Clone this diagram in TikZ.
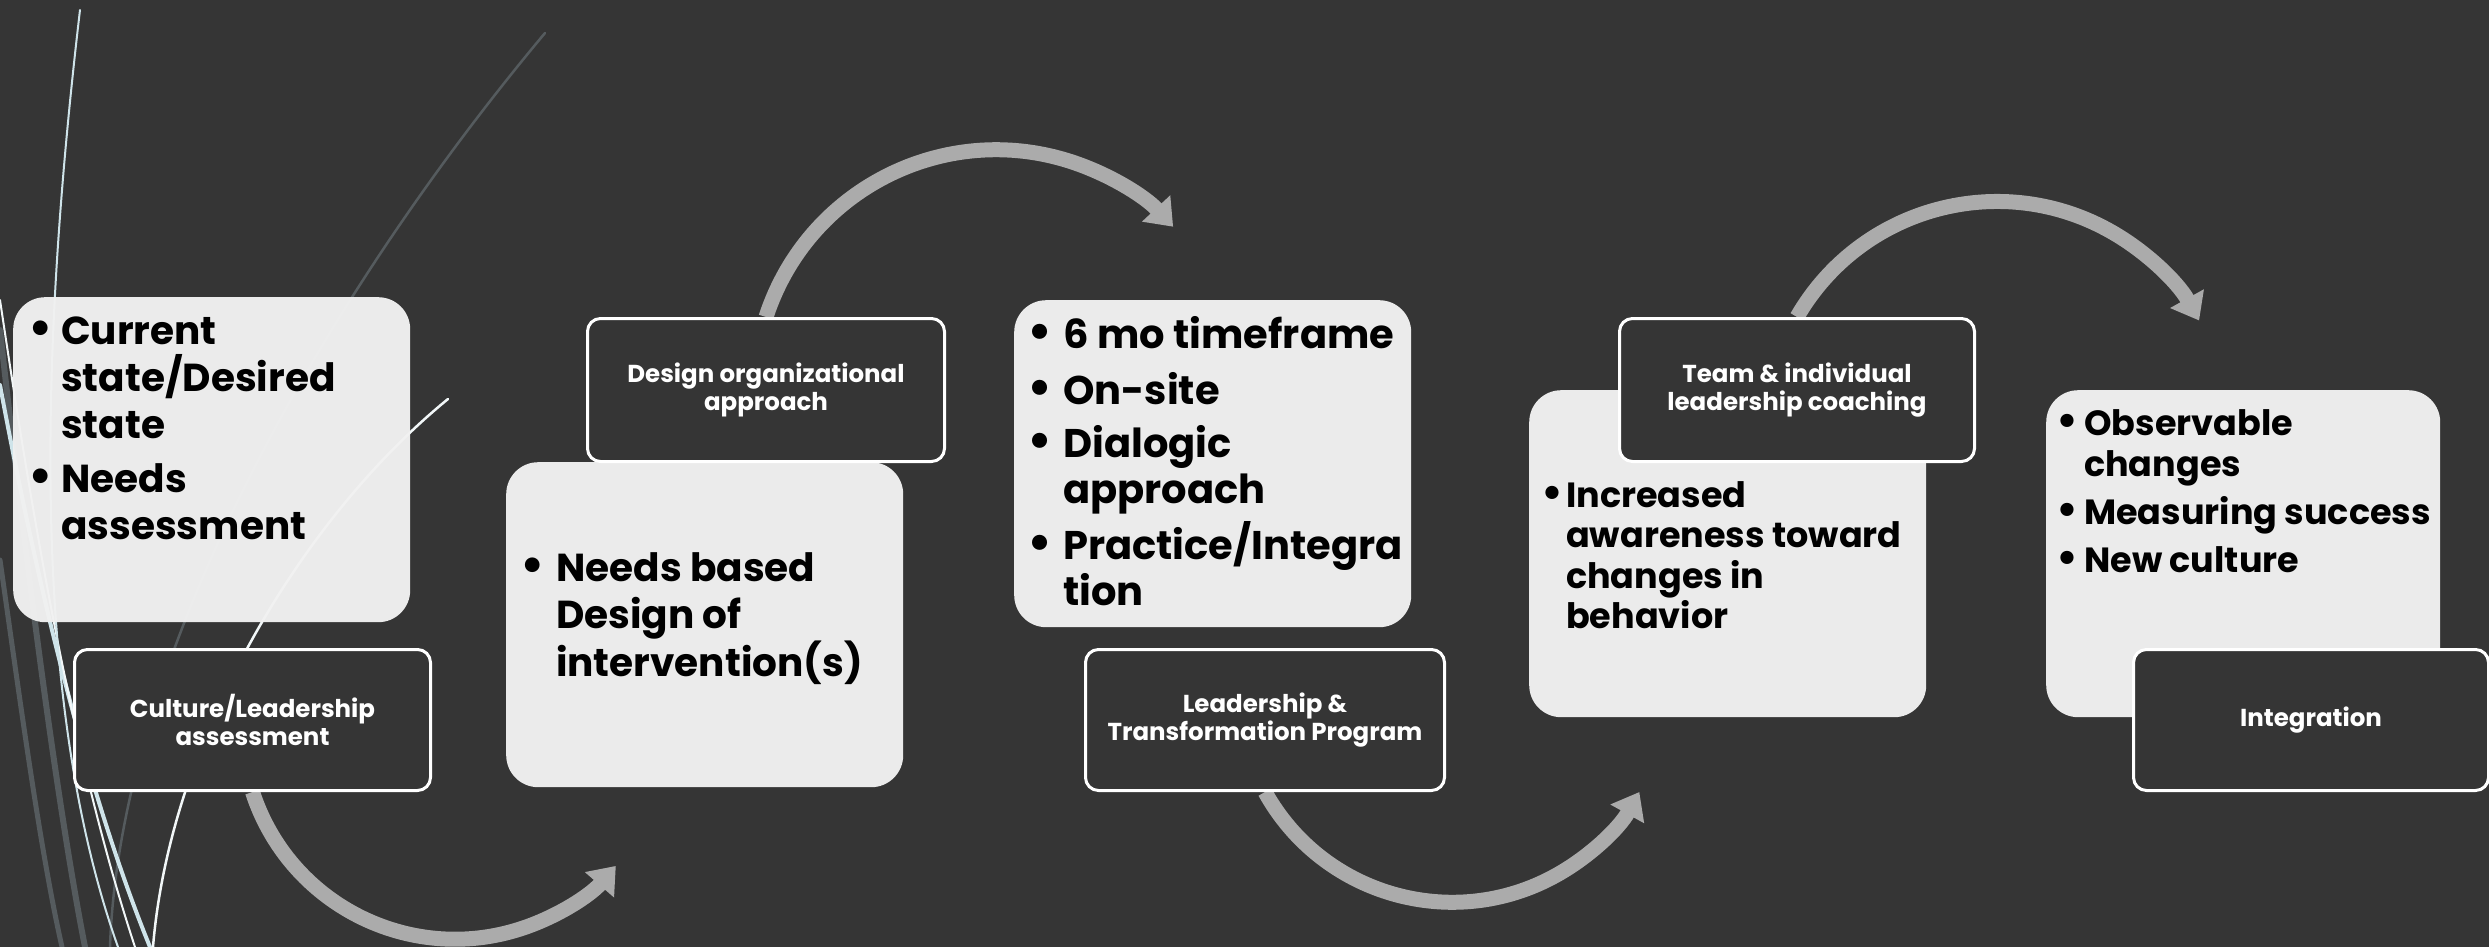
\documentclass[tikz,border=0pt]{standalone}
\usepackage{fontspec}
\setmainfont{Poppins}
\usetikzlibrary{arrows.meta}
\definecolor{bg}{HTML}{353535}
\definecolor{boxfill}{HTML}{F1F1F1}
\definecolor{arrowgray}{HTML}{ABABAB}
\definecolor{decoblue}{HTML}{CFE4EA}
\definecolor{decogrey}{HTML}{555B5E}
\definecolor{decowhite}{HTML}{F2F7F8}
\pgfdeclarelayer{decolayer}
\pgfdeclarelayer{arrowlayer}
\pgfsetlayers{decolayer,arrowlayer,main}
\newcommand\bdot[2]{\makebox[#1][l]{\makebox[#2][c]{\scalebox{1.25}{\textbullet}}}}
\newcommand\rw[1]{\smash{#1}}
\begin{document}
\begin{tikzpicture}[x=1pt,y=-1pt,
 lightbox/.style={draw=none, fill=boxfill, fill opacity=0.97, rounded corners=32pt, inner sep=0pt, anchor=north west},
 labelbox/.style={draw=white, line width=3pt, fill=bg, rounded corners=13pt, inner sep=0pt, anchor=north west, text=white, align=center, font=\bfseries\fontsize{24.5}{28}\selectfont},
 flowarrow/.style={draw=arrowgray, line width=15pt, -{Triangle[length=25pt,width=37pt]}},
 btext/.style={anchor=base west, inner sep=0pt, text=black, align=left},
 deco/.style={line cap=round}]
\useasboundingbox (0,0) rectangle (2489,947);
\begin{pgfonlayer}{decolayer}
\fill[bg] (0,0) rectangle (2489,947);
\draw[deco, decogrey, line width=6pt] (0,330) .. controls (30,600) and (60,820) .. (85,947);
\draw[deco, decogrey, line width=5pt] (0,560) .. controls (20,700) and (40,850) .. (62,947);
\draw[deco, decogrey, line width=2.5pt] (545,33) .. controls (330,290) and (120,650) .. (110,947);
\draw[deco, decoblue, line width=4pt] (0,385) .. controls (40,600) and (90,800) .. (150,947);
\draw[deco, decowhite, line width=2pt] (0,300) .. controls (30,500) and (70,750) .. (135,947);
\draw[deco, decoblue, line width=2pt] (80,10) .. controls (40,350) and (30,700) .. (118,947);
\draw[deco, decowhite, line width=2.5pt] (448,399) .. controls (300,520) and (170,740) .. (153,947);
\end{pgfonlayer}
% light boxes
\node[lightbox, minimum width=397pt, minimum height=325pt] (boxA) at (13,297) {};
\node[lightbox, minimum width=397pt, minimum height=325pt] (boxB) at (506,462) {};
\node[lightbox, minimum width=397pt, minimum height=327pt] (boxC) at (1014,300) {};
\node[lightbox, minimum width=397pt, minimum height=327pt] (boxD) at (1529,390) {};
\node[lightbox, minimum width=394pt, minimum height=327pt] (boxE) at (2046,390) {};
% box texts
\node[btext, font=\bfseries\fontsize{39}{47}\selectfont] (textA) at (34,344)
 {\begin{tabular}[t]{@{}l@{}l@{}}
 \bdot{27pt}{13pt} & \rw{Current}\\
 & \rw{state/Desired}\\
 & \rw{state}\\[7pt]
 \bdot{27pt}{13pt} & \rw{Needs}\\
 & \rw{assessment}
 \end{tabular}};
\node[btext, font=\bfseries\fontsize{39}{47.5}\selectfont] (textB) at (526,581)
 {\begin{tabular}[t]{@{}l@{}l@{}}
 \bdot{30pt}{13pt} & \rw{Needs based}\\
 & \rw{Design of}\\
 & \rw{intervention(s)}
 \end{tabular}};
\node[btext, font=\bfseries\fontsize{40}{46}\selectfont] (textC) at (1033,348)
 {\begin{tabular}[t]{@{}l@{}l@{}}
 \bdot{30pt}{13pt} & \rw{6 mo timeframe}\\[10pt]
 \bdot{30pt}{13pt} & \rw{On-site}\\[7pt]
 \bdot{30pt}{13pt} & \rw{Dialogic}\\
 & \rw{approach}\\[10pt]
 \bdot{30pt}{13pt} & \rw{Practice/Integra}\\
 & \rw{tion}
 \end{tabular}};
\node[btext, font=\bfseries\fontsize{35}{40.5}\selectfont] (textD) at (1547,507)
 {\begin{tabular}[t]{@{}l@{}l@{}}
 \bdot{19pt}{10pt} & \rw{Increased}\\
 & \rw{awareness toward}\\
 & \rw{changes in}\\
 & \rw{behavior}
 \end{tabular}};
\node[btext, font=\bfseries\fontsize{35}{41}\selectfont] (textE) at (2062,435)
 {\begin{tabular}[t]{@{}l@{}l@{}}
 \bdot{22pt}{10pt} & \rw{Observable}\\
 & \rw{changes}\\[7pt]
 \bdot{22pt}{10pt} & \rw{Measuring success}\\[7pt]
 \bdot{22pt}{10pt} & \rw{New culture}
 \end{tabular}};
% label boxes
\node[labelbox, minimum width=356pt, minimum height=141pt] (lblA) at (73,648) {Culture/Leadership\\assessment};
\node[labelbox, minimum width=357pt, minimum height=143pt] (lblB) at (586,317) {Design organizational\\approach};
\node[labelbox, minimum width=359pt, minimum height=141pt] (lblC) at (1084,648) {Leadership \&\\Transformation Program};
\node[labelbox, minimum width=355pt, minimum height=143pt] (lblD) at (1618,317) {Team \& individual\\leadership coaching};
\node[labelbox, minimum width=355pt, minimum height=141pt] (lblE) at (2132,648) {Integration};
% arrows, behind the label boxes
\begin{pgfonlayer}{arrowlayer}
\draw[flowarrow] (lblA.south) arc[start angle=162, end angle=41, radius=213];
\draw[flowarrow] (lblB.north) arc[start angle=-162, end angle=-43, radius=242];
\draw[flowarrow] (lblC.south) arc[start angle=151, end angle=29, radius=214];
\draw[flowarrow] (lblD.north) arc[start angle=-150, end angle=-29, radius=231];
\end{pgfonlayer}
\end{tikzpicture}
\end{document}
